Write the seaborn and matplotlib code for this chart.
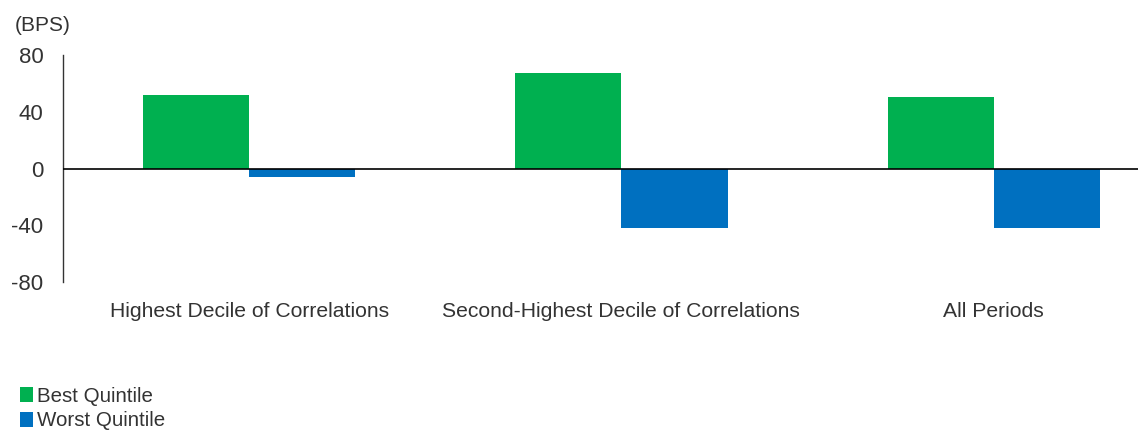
import matplotlib
matplotlib.use("Agg")
import matplotlib.pyplot as plt
import seaborn as sns
import pandas as pd

categories = ["Highest Decile of Correlations", "Second-Highest Decile of Correlations", "All Periods"]
best_quintile = [51.5, 67.5, 50.5]
worst_quintile = [-6, -42, -42]
series_names = ["Best Quintile", "Worst Quintile"]
y_ticks = [-80, -40, 0, 40, 80]

df = pd.DataFrame({
    "category": categories * 2,
    "value": best_quintile + worst_quintile,
    "series": [series_names[0]] * 3 + [series_names[1]] * 3,
})

sns.set_theme(style="white")
plt.rcParams['font.family'] = ['Liberation Sans', 'DejaVu Sans']
text_color = "#333333"

fig = plt.figure(figsize=(11.4, 4.3), dpi=100)
ax = fig.add_axes([0.0553, 0.344, 0.9427, 0.528])

sns.barplot(data=df, x="category", y="value", hue="series", order=categories,
            hue_order=series_names, palette=["#00B050", "#0070C0"],
            width=0.57, gap=0, saturation=1, edgecolor="none", linewidth=0, ax=ax)

handles, labels = ax.get_legend_handles_labels()
ax.get_legend().remove()

ax.set_ylim(-80, 80)
ax.set_xlim(-0.5, 2.387)
ax.set_yticks(y_ticks)
ax.set_yticklabels([str(t) for t in y_ticks])
ax.axhline(0, color="black", lw=1.2, zorder=5)
for s in ["top", "right", "bottom"]:
    ax.spines[s].set_visible(False)
ax.spines["left"].set_color("#333333")
ax.spines["left"].set_linewidth(1.0)
ax.tick_params(axis="y", length=0, pad=14, labelsize=16, labelcolor=text_color)
ax.tick_params(axis="x", length=0, pad=14, labelsize=15.2, labelcolor=text_color)
ax.set_xlabel("")
ax.set_ylabel("")

fig.text(0.013, 0.94, "(BPS)", fontsize=15, color=text_color, ha="left", va="center")

fig.legend(handles, labels, loc="lower left", bbox_to_anchor=(0.01, -0.02),
           frameon=False, fontsize=14.8, handlelength=0.65, handleheight=0.75,
           handletextpad=0.2, labelspacing=0.28, borderaxespad=0, labelcolor=text_color)

fig.savefig("out.png", dpi=100)
